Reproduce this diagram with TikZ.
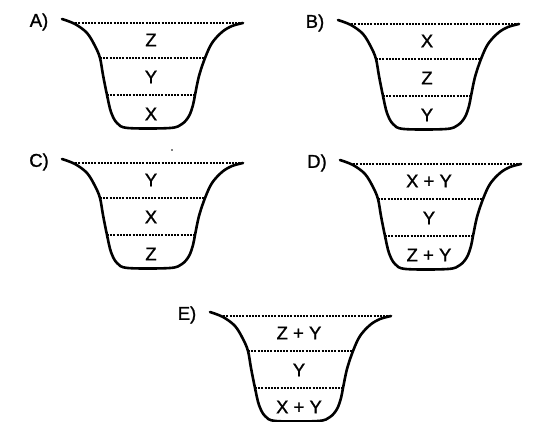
\documentclass[tikz,border=0pt]{standalone}
\usepackage{fontspec}
\setmainfont{Liberation Sans}
\newfontfamily\lblfont{Liberation Sans}[FakeBold=1.2]
\tikzset{
  wall/.style={line width=2.6pt, line cap=round, line join=round},
  levelline/.style={line width=1.2pt, dash pattern=on 2pt off 1.2pt},
  txt/.style={font=\lblfont\fontsize{18.5}{21}\selectfont, inner sep=0pt},
}
% #1,#2 shift; #3 name; #4 tag; #5 top; #6 middle; #7 bottom
\newcommand\drawbasin[7]{%
\begin{scope}[shift={(#1,#2)}]
  \draw[wall] plot[smooth, tension=0.55] coordinates {(0,0) (13,5) (25,14) (33,27) (38,39) (41,56) (45,76) (49,93) (55,104) (66,109) (108,109) (120,105) (127,97) (131,86) (133,76) (137,57) (143,39) (150,24) (160,13) (170,7) (181,4)};
  \coordinate (#3t1) at (10,4);  \coordinate (#3t2) at (181,4);
  \coordinate (#3m1) at (38,39); \coordinate (#3m2) at (143,39);
  \coordinate (#3b1) at (45,76); \coordinate (#3b2) at (133,76);
  \draw[levelline] (#3t1) -- (#3t2);
  \draw[levelline] (#3m1) -- (#3m2);
  \draw[levelline] (#3b1) -- (#3b2);
  \node[txt] (#3tag) at (-23,3) {#4};
  \node[txt] (#3l1) at (89,21) {#5};
  \node[txt] (#3l2) at (89,58) {#6};
  \node[txt] (#3l3) at (89,95) {#7};
\end{scope}}
\begin{document}
\begin{tikzpicture}[x=1pt,y=-1pt]
\useasboundingbox (0,0) rectangle (538,421);
\drawbasin{62}{19}{A}{A)}{Z}{Y}{X}
\drawbasin{338}{20}{B}{B)}{X}{Z}{Y}
\drawbasin{62}{159}{C}{C)}{Y}{X}{Z}
\drawbasin{340}{160}{D}{D)}{X + Y}{Y}{Z + Y}
\drawbasin{210}{312}{E}{E)}{Z + Y}{Y}{X + Y}
\fill (172,150) circle (0.9);
\end{tikzpicture}
\end{document}
